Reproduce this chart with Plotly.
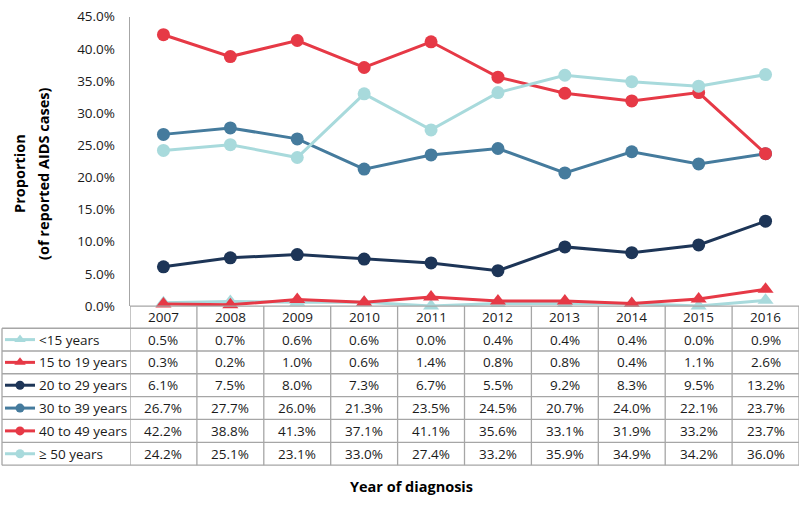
import plotly.graph_objects as go

years = ["2007", "2008", "2009", "2010", "2011", "2012", "2013", "2014", "2015", "2016"]
series_names = ["<15 years", "15 to 19 years", "20 to 29 years", "30 to 39 years", "40 to 49 years", "\u2265 50 years"]
under15 = [0.5, 0.7, 0.6, 0.6, 0.0, 0.4, 0.4, 0.4, 0.0, 0.9]
age15_19 = [0.3, 0.2, 1.0, 0.6, 1.4, 0.8, 0.8, 0.4, 1.1, 2.6]
age20_29 = [6.1, 7.5, 8.0, 7.3, 6.7, 5.5, 9.2, 8.3, 9.5, 13.2]
age30_39 = [26.7, 27.7, 26.0, 21.3, 23.5, 24.5, 20.7, 24.0, 22.1, 23.7]
age40_49 = [42.2, 38.8, 41.3, 37.1, 41.1, 35.6, 33.1, 31.9, 33.2, 23.7]
age50plus = [24.2, 25.1, 23.1, 33.0, 27.4, 33.2, 35.9, 34.9, 34.2, 36.0]
y_ticks = [0, 5, 10, 15, 20, 25, 30, 35, 40, 45]

values = [under15, age15_19, age20_29, age30_39, age40_49, age50plus]
colors = ["#a8dadc", "#e63946", "#1d3557", "#457b9d", "#e63946", "#a8dadc"]
symbols = ["triangle-up", "triangle-up", "circle", "circle", "circle", "circle"]

W, H = 800, 506
FONT = "Open Sans"
TXT = "#1a1a1a"
GRID = "#a6a6a6"
FS = 13.5

def py(p):
    return 1 - p / H

def px(p):
    return p / W

plot_left, plot_right = 130, 799
plot_top, plot_bottom = 8, 308
row_bounds = [308, 331, 354.6, 378.2, 402, 425.6, 449.3, 473]

fig = go.Figure()
idx = list(range(len(years)))
for name, vals, col, sym in zip(series_names, values, colors, symbols):
    fig.add_trace(go.Scatter(
        x=idx, y=vals, mode="lines+markers", name=name,
        line=dict(color=col, width=3),
        marker=dict(color=col, size=13 if sym == "circle" else 14, symbol=sym),
        showlegend=False, cliponaxis=False, hoverinfo="skip",
    ))

for i, (name, col, sym) in enumerate(zip(series_names, colors, symbols)):
    cy = (row_bounds[i + 1] + row_bounds[i + 2]) / 2
    fig.add_trace(go.Scatter(
        x=[5, 35], y=[cy, cy], xaxis="x2", yaxis="y2", mode="lines",
        line=dict(color=col, width=3), showlegend=False, hoverinfo="skip"))
    fig.add_trace(go.Scatter(
        x=[20], y=[cy], xaxis="x2", yaxis="y2", mode="markers",
        marker=dict(color=col, size=9 if sym == "circle" else 10, symbol=sym),
        showlegend=False, hoverinfo="skip"))
    fig.add_annotation(x=px(37), y=py(cy), xref="paper", yref="paper",
                       text=name, showarrow=False, xanchor="left", yanchor="middle",
                       font=dict(family=FONT, size=FS, color=TXT))

shapes = []
for k in range(len(years) + 1):
    shapes.append(dict(type="line", xref="x", yref="paper", x0=k - 0.5, x1=k - 0.5,
                       y0=py(row_bounds[0]), y1=py(row_bounds[-1]),
                       line=dict(color=GRID, width=1.3)))
shapes.append(dict(type="line", xref="paper", yref="paper", x0=px(2), x1=px(2),
                   y0=py(row_bounds[1]), y1=py(row_bounds[-1]),
                   line=dict(color=GRID, width=1.3)))
for j, rb in enumerate(row_bounds):
    x0 = px(plot_left) if j == 0 else px(2)
    shapes.append(dict(type="line", xref="paper", yref="paper", x0=x0, x1=px(plot_right),
                       y0=py(rb), y1=py(rb), line=dict(color=GRID, width=1.3)))
fig.update_layout(shapes=shapes)

hc = (row_bounds[0] + row_bounds[1]) / 2
for i, yr in enumerate(years):
    fig.add_annotation(x=i, y=py(hc), xref="x", yref="paper", text=yr, showarrow=False,
                       font=dict(family=FONT, size=FS, color=TXT), yanchor="middle")
for r, vals in enumerate(values):
    cy = (row_bounds[r + 1] + row_bounds[r + 2]) / 2
    for i, v in enumerate(vals):
        fig.add_annotation(x=i, y=py(cy), xref="x", yref="paper", text=f"{v:.1f}%",
                           showarrow=False, font=dict(family=FONT, size=FS, color=TXT),
                           yanchor="middle")

fig.add_annotation(x=px(411), y=py(495), xref="paper", yref="paper",
                   text="<b>Year of diagnosis</b>", showarrow=False,
                   font=dict(family=FONT, size=14.5, color="#000000"), yanchor="middle")
fig.add_annotation(x=px(20), y=py(171), xref="paper", yref="paper",
                   text="<b>Proportion</b>", showarrow=False,
                   textangle=-90, font=dict(family=FONT, size=14.5, color="#000000"),
                   xanchor="center", yanchor="middle")
fig.add_annotation(x=px(44), y=py(171), xref="paper", yref="paper",
                   text="<b>(of reported AIDS cases)</b>", showarrow=False,
                   textangle=-90, font=dict(family=FONT, size=14.5, color="#000000"),
                   xanchor="center", yanchor="middle")

fig.update_layout(
    width=W, height=H,
    margin=dict(l=0, r=0, t=0, b=0),
    paper_bgcolor="white", plot_bgcolor="rgba(0,0,0,0)",
    xaxis=dict(domain=[px(plot_left), px(plot_right)], range=[-0.5, len(years) - 0.5],
               showgrid=False, zeroline=False, showticklabels=False, showline=False),
    yaxis=dict(domain=[py(plot_bottom), py(plot_top)], range=[0, 45],
               tickvals=y_ticks, ticktext=[f"{t:.1f}%" for t in y_ticks],
               showgrid=False, zeroline=False, showline=True, linecolor=GRID, linewidth=1.3,
               ticks="", ticklabelstandoff=11, ticklabeloverflow="allow",
               tickfont=dict(family=FONT, size=FS, color=TXT)),
    xaxis2=dict(domain=[0, 1], range=[0, W], visible=False, fixedrange=True, anchor="y2"),
    yaxis2=dict(domain=[0, 1], range=[H, 0], visible=False, fixedrange=True, anchor="x2"),
    showlegend=False,
)

fig.write_html("out.html", config={"displayModeBar": False, "staticPlot": True},
               post_script="document.body.style.margin='0';document.body.style.overflow='hidden';")
